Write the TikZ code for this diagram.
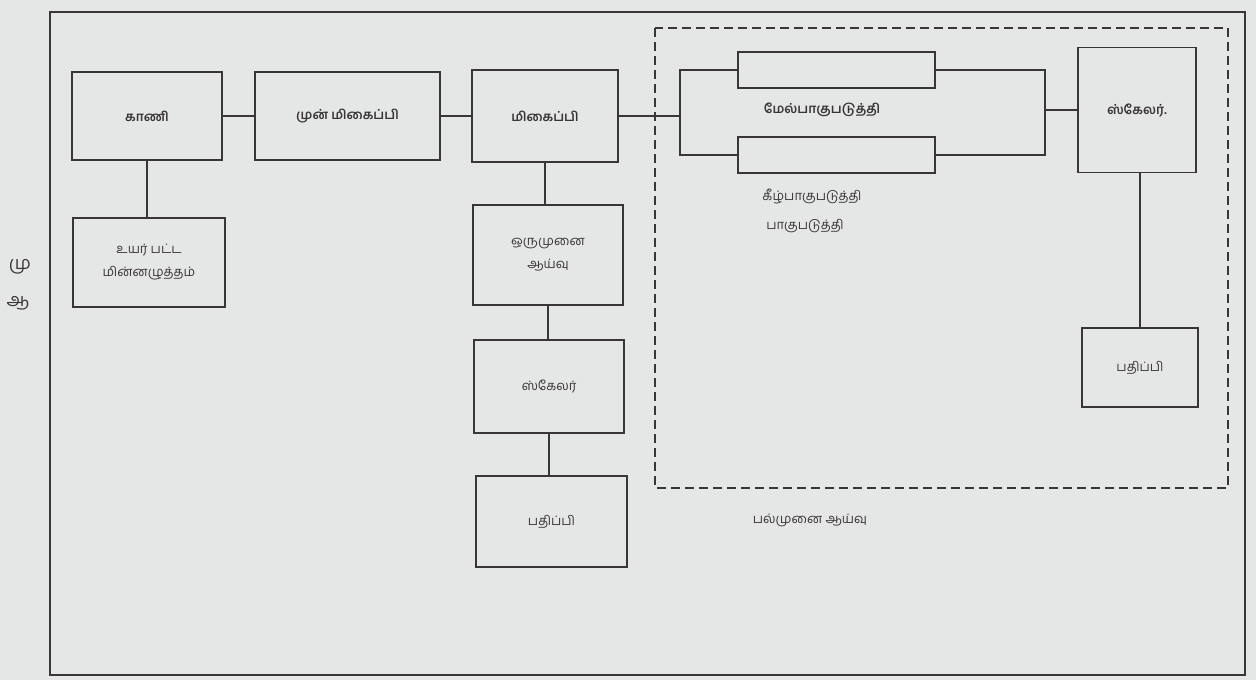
\documentclass[tikz,border=0pt]{standalone}
\usepackage{fontspec}
\newfontfamily\tam[Script=Tamil]{Hind Madurai}
\definecolor{bgc}{HTML}{E5E7E6}
\definecolor{linec}{HTML}{3A3536}
\begin{document}
\begin{tikzpicture}[x=1pt,y=-1pt,
  blk/.style={draw=linec, line width=1.5pt, inner sep=0pt, align=center,
    font=\tam\fontsize{13}{23}\selectfont, text=linec},
  lbl/.style={inner sep=0pt, align=center, font=\tam\fontsize{13}{22}\selectfont, text=linec},
  heavy/.style={font=\tam\bfseries\fontsize{13}{23}\selectfont},
  conn/.style={draw=linec, line width=1.5pt},
  frame/.style={draw=linec, line width=1.6pt},
  grp/.style={draw=linec, line width=1.5pt, dash pattern=on 9pt off 5pt}]
\useasboundingbox (0,0) rectangle (1256,680);
\fill[bgc] (0,0) rectangle (1256,680);
% outer frame
\draw[frame] (50,12) rectangle (1245,675);
% dashed group
\draw[grp] (655,28) rectangle (1228,488);
% boxes
\node[blk, heavy, minimum width=150pt, minimum height=88pt] (kani) at (147,116) {காணி};
\node[blk, heavy, minimum width=185pt, minimum height=88pt] (mun) at (347.5,116) {முன் மிகைப்பி};
\node[blk, heavy, minimum width=146pt, minimum height=92pt] (mikai) at (545,116) {மிகைப்பி};
\node[blk, minimum width=152pt, minimum height=89pt] (uyar) at (149,262.5) {உயர் பட்ட\\மின்னழுத்தம்};
\node[blk, minimum width=150pt, minimum height=100pt] (oru) at (548,255) {ஒருமுனை\\ஆய்வு};
\node[blk, minimum width=150pt, minimum height=93pt] (scal1) at (549,386.5) {ஸ்கேலர்};
\node[blk, minimum width=151pt, minimum height=91pt] (pat1) at (551.5,521.5) {பதிப்பி};
\node[blk, minimum width=197pt, minimum height=36pt] (upr) at (836.5,70) {};
\node[blk, minimum width=197pt, minimum height=36pt] (lwr) at (836.5,155) {};
\node[blk, heavy, minimum width=118pt, minimum height=125pt] (scal2) at (1137,110) {ஸ்கேலர்.};
\node[blk, minimum width=116pt, minimum height=79pt] (pat2) at (1140,367.5) {பதிப்பி};
% labels
\node[lbl, heavy] (lup) at (822,110) {மேல்பாகுபடுத்தி};
\node[lbl] (llo) at (812,196) {கீழ்பாகுபடுத்தி};
\node[lbl] (llo2) at (805,226) {பாகுபடுத்தி};
\node[lbl] (lgrp) at (810,520) {பல்முனை ஆய்வு};
\node[lbl, font=\tam\fontsize{18}{20}\selectfont] (lm1) at (20,267) {மு};
\node[lbl, font=\tam\fontsize{18}{20}\selectfont] (lm2) at (18,303) {ஆ};
% connectors
\coordinate (bl) at (680,116);
\coordinate (br) at (1045,110);
\draw[conn] (kani.east) -- (mun.west);
\draw[conn] (mun.east) -- (mikai.west);
\draw[conn] (kani.south) -- (kani.south |- uyar.north);
\draw[conn] (mikai.south) -- (mikai.south |- oru.north);
\draw[conn] (oru.south) -- (oru.south |- scal1.north);
\draw[conn] (scal1.south) -- (scal1.south |- pat1.north);
\draw[conn] (mikai.east) -- (bl);
\draw[conn] (upr.west) -| (bl) |- (lwr.west);
\draw[conn] (upr.east) -| (br) |- (lwr.east);
\draw[conn] (br) -- (br -| scal2.west);
\draw[conn] (scal2.south -| pat2.north) -- (pat2.north);
\end{tikzpicture}
\end{document}
